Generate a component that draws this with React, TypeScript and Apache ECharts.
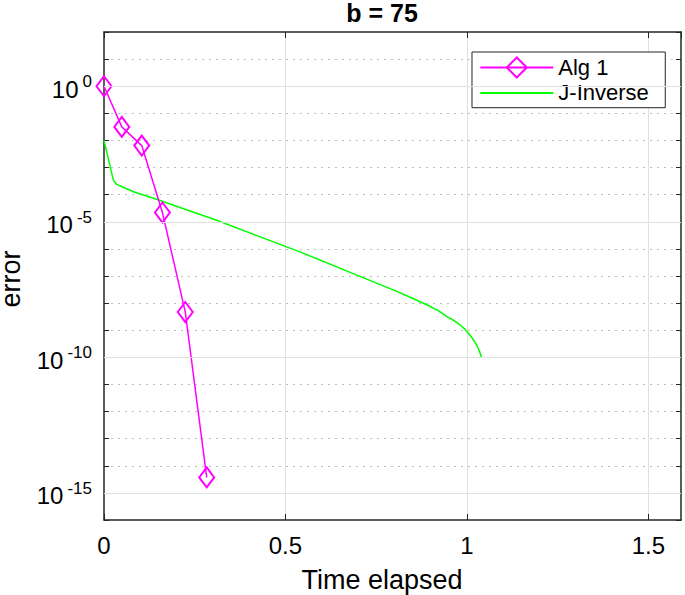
import React, { useEffect, useRef } from 'react';
import * as echarts from 'echarts';

// ---- text ----
const titleText = 'b = 75';
const xAxisName = 'Time elapsed';
const yAxisName = 'error';

// ---- axes ----
const xTicks = [0, 0.5, 1, 1.5];
const xMin = 0;
const xMax = 1.59;
const yMinExp = -16;
const yMaxExp = 2;
const majorExponents = [0, -5, -10, -15];

// ---- series: Alg 1 ----
const alg1Time = [0, 0.049, 0.104, 0.161, 0.224, 0.283];
const alg1Error = [1, 3.16e-2, 6.46e-3, 2.19e-5, 4.68e-9, 3.72e-15];

// ---- series: J-Inverse ----
const jInvTime = [
  0, 0.026, 0.035, 0.05, 0.085, 0.149, 0.241, 0.301, 0.54, 0.714, 0.8, 0.85, 0.888, 0.92, 0.943, 0.965, 0.98,
  0.995, 1.007, 1.018, 1.026, 1.034, 1.04,
];
const jInvError = [
  1.0e-2, 3.31e-4, 2.4e-4, 1.95e-4, 1.23e-4, 6.46e-5, 2.4e-5, 1.26e-5, 7.76e-7, 8.71e-8, 2.95e-8, 1.51e-8, 8.91e-9,
  5.37e-9, 3.31e-9, 2.24e-9, 1.62e-9, 1.07e-9, 6.92e-10, 4.47e-10, 2.95e-10, 1.78e-10, 1.0e-10,
];

const FONT = '"Liberation Sans", Arial, Helvetica, sans-serif';
const AX = '#262626';

export default function App() {
  const ref = useRef<HTMLDivElement>(null);

  useEffect(() => {
    document.body.style.margin = '0';
    if (!ref.current) return;
    const chart = echarts.init(ref.current, null, { renderer: 'svg' });

    const decoAxisBase = {
      type: 'value',
      min: yMinExp,
      max: yMaxExp,
      interval: 1,
      axisLine: { show: true, onZero: false, lineStyle: { color: AX, width: 1.5 } },
      axisTick: { show: true, inside: true, length: 5, lineStyle: { color: AX, width: 1 } },
    };

    const option: any = {
      animation: false,
      backgroundColor: '#ffffff',
      grid: { left: 104, right: 4, top: 32, bottom: 75, containLabel: false, outerBoundsMode: 'none' },
      graphic: {
        elements: [
          {
            type: 'text',
            x: 382,
            y: 12.5,
            style: {
              text: titleText,
              fontSize: 25,
              fontWeight: 'bold',
              fontFamily: FONT,
              fill: '#000',
              align: 'center',
              verticalAlign: 'middle',
            },
          },
        ],
      },
      legend: {
        data: [{ name: 'Alg 1' }, { name: 'J-Inverse', itemStyle: { opacity: 0 } }],
        orient: 'vertical',
        left: 472,
        top: 52,
        itemWidth: 73,
        itemHeight: 25,
        itemGap: 3.4,
        padding: [4.5, 16.5, 3.8, 7.3],
        borderColor: AX,
        borderWidth: 1,
        borderRadius: 0,
        backgroundColor: '#ffffff',
        selectedMode: false,
        textStyle: { fontSize: 22, color: '#000', fontFamily: FONT },
      },
      xAxis: [
        {
          type: 'value',
          position: 'bottom',
          min: xMin,
          max: xMax,
          interval: 0.5,
          axisLine: { show: true, onZero: false, lineStyle: { color: AX, width: 1.5 } },
          axisTick: { show: true, inside: true, length: 6, lineStyle: { color: AX, width: 1 } },
          axisLabel: {
            margin: 13,
            fontSize: 24,
            color: '#000',
            fontFamily: FONT,
            showMaxLabel: false,
            formatter: (v: number) => (xTicks.includes(v) ? String(v) : ''),
          },
          splitLine: { show: true, showMinLine: false, showMaxLine: false, lineStyle: { color: '#e0e0e0', width: 1 } },
          name: xAxisName,
          nameLocation: 'middle',
          nameGap: 46,
          nameTextStyle: { fontSize: 27, color: '#000', fontFamily: FONT, padding: [0, 21, 0, 0] },
        },
        {
          type: 'value',
          position: 'top',
          min: xMin,
          max: xMax,
          interval: 0.5,
          axisLine: { show: true, onZero: false, lineStyle: { color: AX, width: 1.5 } },
          axisTick: { show: true, inside: true, length: 6, lineStyle: { color: AX, width: 1 } },
          axisLabel: { show: false },
          splitLine: { show: false },
        },
      ],
      yAxis: [
        {
          type: 'log',
          logBase: 10,
          min: Math.pow(10, yMinExp),
          max: Math.pow(10, yMaxExp),
          show: false,
        },
        {
          ...decoAxisBase,
          position: 'left',
          axisLabel: {
            margin: 12,
            color: '#000',
            fontFamily: FONT,
            formatter: (v: number) => (majorExponents.includes(v) ? `{b|10}{s|${v}}` : ''),
            rich: {
              b: { fontSize: 24, fontFamily: FONT, color: '#000', padding: [6, 0, 0, 0] },
              s: { fontSize: 17, fontFamily: FONT, color: '#000', verticalAlign: 'top', padding: [2, 0, 0, 4] },
            },
          },
          splitLine: {
            show: true,
            showMinLine: false,
            showMaxLine: false,
            lineStyle: { color: '#bdbdbd', width: 1, type: [2, 5] },
          },
          name: yAxisName,
          nameLocation: 'middle',
          nameGap: 81,
          nameTextStyle: { fontSize: 27, lineHeight: 24, color: '#000', fontFamily: FONT, padding: [0, 6, 0, 0] },
        },
        {
          ...decoAxisBase,
          position: 'right',
          axisLabel: { show: false },
          splitLine: { show: false },
        },
      ],
      series: [
        {
          type: 'line',
          xAxisIndex: 0,
          yAxisIndex: 1,
          data: [],
          silent: true,
          z: 1,
          markLine: {
            silent: true,
            symbol: ['none', 'none'],
            label: { show: false },
            emphasis: { disabled: true },
            lineStyle: { color: '#e0e0e0', type: 'solid', width: 1 },
            data: majorExponents.map((e) => ({ yAxis: e })),
          },
        },
        {
          name: 'J-Inverse',
          type: 'line',
          xAxisIndex: 0,
          yAxisIndex: 0,
          data: jInvTime.map((t, i) => [t, jInvError[i]]),
          symbol: 'none',
          itemStyle: { color: '#00ff00' },
          lineStyle: { color: '#00ff00', width: 1.5 },
          z: 3,
        },
        {
          name: 'Alg 1',
          type: 'line',
          xAxisIndex: 0,
          yAxisIndex: 0,
          data: alg1Time.map((t, i) => [t, alg1Error[i]]),
          symbol: 'diamond',
          symbolSize: [15, 20],
          showSymbol: true,
          itemStyle: { color: 'rgba(0,0,0,0)', borderColor: '#ff00ff', borderWidth: 2 },
          lineStyle: { color: '#ff00ff', width: 1.5 },
          z: 4,
        },
      ],
    };

    chart.setOption(option);
    return () => chart.dispose();
  }, []);

  return <div ref={ref} style={{ width: 685, height: 595 }} />;
}
